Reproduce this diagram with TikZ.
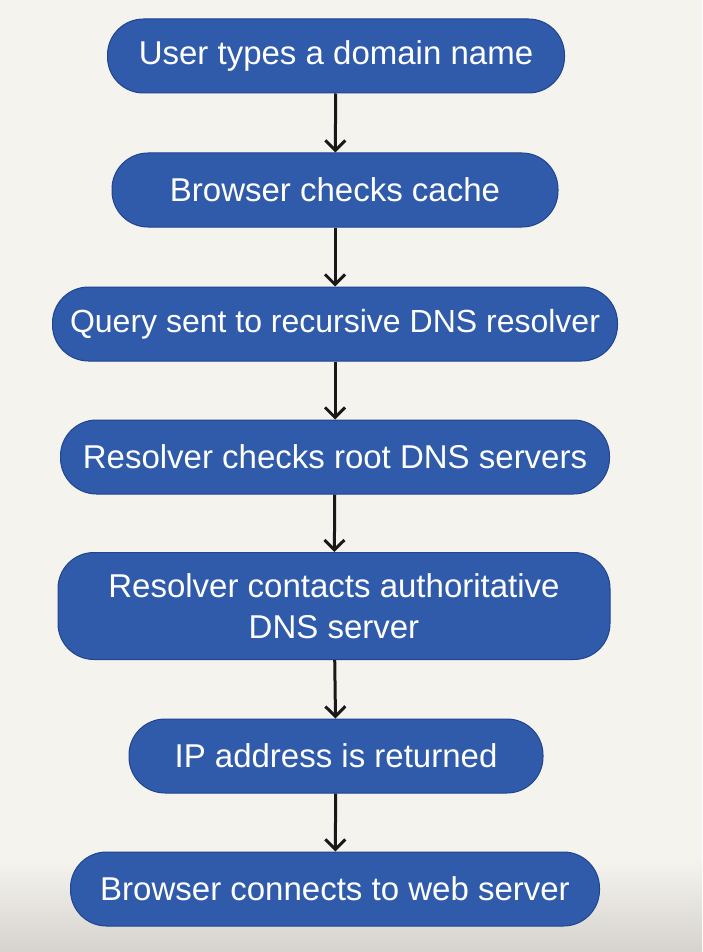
\documentclass[tikz,border=0pt]{standalone}
\usepackage{fontspec}
\setmainfont{Liberation Sans}
\usetikzlibrary{arrows.meta}

\definecolor{paper}{RGB}{245,243,238}
\definecolor{paperdark}{RGB}{214,211,206}
\definecolor{stepblue}{RGB}{47,91,170}
\definecolor{stepline}{RGB}{32,68,145}
\definecolor{arrowink}{RGB}{25,25,25}

\tikzset{
  stepbox/.style={rectangle,rounded corners=36pt,fill=stepblue,draw=stepline,
    line width=1pt,text=white,align=center,minimum height=74pt,
    font=\fontsize{33}{41}\selectfont},
  flowarrow/.style={draw=arrowink,line width=3pt,
    -{Straight Barb[length=10pt,width=20pt,line width=3pt]}}
}

\begin{document}
\begin{tikzpicture}[x=1pt,y=-1pt]
   \useasboundingbox (0,0) rectangle (702,952);
   \fill[paper] (0,0) rectangle (702,952);
   \shade[top color=paper,bottom color=paperdark] (0,860) rectangle (702,952);
   \begin{scope}[every node/.style={stepbox}]
    \node[minimum width=457pt] (typing) at (336,56) {User types a domain name};
    \node[minimum width=446pt] (cache) at (335,190) {Browser checks cache};
    \node[minimum width=565pt,font=\fontsize{32}{41}\selectfont] (query) at (335,324) {Query sent to recursive DNS resolver};
    \node[minimum width=549pt] (root) at (335,457) {Resolver checks root DNS servers};
    \node[minimum width=552pt,minimum height=107pt] (auth) at (334,606) {Resolver contacts authoritative\\DNS server};
    \node[minimum width=414pt] (ipaddr) at (336,756) {IP address is returned};
    \node[minimum width=529pt] (connect) at (335,889) {Browser connects to web server};
   \end{scope}
   \begin{scope}[every edge/.style={flowarrow}]
    \draw  (typing) edge (cache);
    \draw  (cache) edge (query);
    \draw  (query) edge (root);
    \draw  (root) edge (auth);
    \draw  (auth) edge (ipaddr);
    \draw  (ipaddr) edge (connect);
   \end{scope}
\end{tikzpicture}
\end{document}
